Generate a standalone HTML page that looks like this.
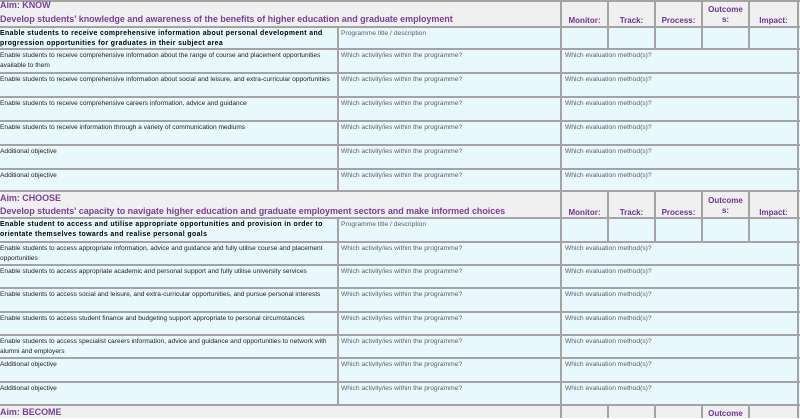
<!DOCTYPE html>
<html><head><meta charset="utf-8"><style>
body{margin:0;width:800px;height:418px;overflow:hidden;background:#fff;font-family:"Liberation Sans",sans-serif;position:relative}
.a{position:absolute}
.hb{background:#f1f0f0}
.rb{background:#e8f8fc}
.h{background:#a4a4a4;height:2px;left:0;width:800px}
.v{background:#a4a4a4;width:2px}
.t{position:absolute;font-size:6.6px;line-height:9.5px;color:#222;white-space:nowrap;margin-top:1px}
.g{color:#5a6070;font-size:6.7px}
.b{font-weight:bold;color:#000;font-size:6.9px;letter-spacing:.4px}
.p{position:absolute;color:#7a3f9a;font-weight:bold;font-size:9px;white-space:nowrap;letter-spacing:-.05px}
.c{position:absolute;color:#6b3590;font-weight:bold;font-size:8px;text-align:center;line-height:10px}
</style></head><body>
<div class="a hb" style="left:0;top:0;width:800px;height:27px"></div>
<div class="a rb" style="left:0;top:27px;width:800px;height:164px"></div>
<div class="a hb" style="left:0;top:191px;width:800px;height:27px"></div>
<div class="a rb" style="left:0;top:218px;width:800px;height:187px"></div>
<div class="a hb" style="left:0;top:405px;width:800px;height:13px"></div>
<div class="a h" style="top:0"></div>
<div class="a h" style="top:26px"></div><div class="a h" style="top:48px"></div><div class="a h" style="top:72px"></div><div class="a h" style="top:96px"></div><div class="a h" style="top:120px"></div><div class="a h" style="top:144px"></div><div class="a h" style="top:168px"></div><div class="a h" style="top:190px"></div>
<div class="a h" style="top:217px"></div><div class="a h" style="top:241px"></div><div class="a h" style="top:264px"></div><div class="a h" style="top:287px"></div><div class="a h" style="top:311px"></div><div class="a h" style="top:334px"></div><div class="a h" style="top:357px"></div><div class="a h" style="top:381px"></div><div class="a h" style="top:404px"></div>
<div class="a v" style="left:337px;top:26px;height:165px"></div>
<div class="a v" style="left:560px;top:0;height:191px"></div>
<div class="a v" style="left:607px;top:0;height:49px"></div><div class="a v" style="left:654px;top:0;height:49px"></div><div class="a v" style="left:701px;top:0;height:49px"></div><div class="a v" style="left:748px;top:0;height:49px"></div><div class="a v" style="left:797px;top:0;height:191px"></div>
<div class="a v" style="left:337px;top:217px;height:188px"></div>
<div class="a v" style="left:560px;top:191px;height:214px"></div>
<div class="a v" style="left:607px;top:191px;height:51px"></div><div class="a v" style="left:654px;top:191px;height:51px"></div><div class="a v" style="left:701px;top:191px;height:51px"></div><div class="a v" style="left:748px;top:191px;height:51px"></div><div class="a v" style="left:797px;top:191px;height:214px"></div>
<div class="a v" style="left:560px;top:405px;height:13px"></div><div class="a v" style="left:607px;top:405px;height:13px"></div><div class="a v" style="left:654px;top:405px;height:13px"></div><div class="a v" style="left:701px;top:405px;height:13px"></div><div class="a v" style="left:748px;top:405px;height:13px"></div><div class="a v" style="left:797px;top:405px;height:13px"></div>

<div class="p" style="left:0;top:0">Aim: KNOW</div>
<div class="p" style="left:0;top:14px">Develop students' knowledge and awareness of the benefits of higher education and graduate employment</div>
<div class="c" style="left:562px;top:16px;width:45px">Monitor:</div>
<div class="c" style="left:609px;top:16px;width:45px">Track:</div>
<div class="c" style="left:656px;top:16px;width:45px">Process:</div>
<div class="c" style="left:703px;top:5px;width:45px">Outcome<br>s:</div>
<div class="c" style="left:750px;top:16px;width:47px">Impact:</div>

<div class="t b" style="left:0;top:28px">Enable students to receive comprehensive information about personal development and<br>progression opportunities for graduates in their subject area</div>
<div class="t g" style="left:341px;top:28px">Programme title / description</div>
<div class="t" style="left:0;top:50px">Enable students to receive comprehensive information about the range of course and placement opportunities<br>available to them</div>
<div class="t" style="left:0;top:74px">Enable students to receive comprehensive information about social and leisure, and extra-curricular opportunities</div>
<div class="t" style="left:0;top:98px">Enable students to receive comprehensive careers information, advice and guidance</div>
<div class="t" style="left:0;top:122px">Enable students to receive information through a variety of communication mediums</div>
<div class="t" style="left:0;top:146px">Additional objective</div>
<div class="t" style="left:0;top:170px">Additional objective</div>
<div class="t g" style="left:341px;top:50px">Which activity/ies within the programme?</div><div class="t g" style="left:565px;top:50px">Which evaluation method(s)?</div>
<div class="t g" style="left:341px;top:74px">Which activity/ies within the programme?</div><div class="t g" style="left:565px;top:74px">Which evaluation method(s)?</div>
<div class="t g" style="left:341px;top:98px">Which activity/ies within the programme?</div><div class="t g" style="left:565px;top:98px">Which evaluation method(s)?</div>
<div class="t g" style="left:341px;top:122px">Which activity/ies within the programme?</div><div class="t g" style="left:565px;top:122px">Which evaluation method(s)?</div>
<div class="t g" style="left:341px;top:146px">Which activity/ies within the programme?</div><div class="t g" style="left:565px;top:146px">Which evaluation method(s)?</div>
<div class="t g" style="left:341px;top:170px">Which activity/ies within the programme?</div><div class="t g" style="left:565px;top:170px">Which evaluation method(s)?</div>

<div class="p" style="left:0;top:193px">Aim: CHOOSE</div>
<div class="p" style="left:0;top:206px">Develop students' capacity to navigate higher education and graduate employment sectors and make informed choices</div>
<div class="c" style="left:562px;top:208px;width:45px">Monitor:</div>
<div class="c" style="left:609px;top:208px;width:45px">Track:</div>
<div class="c" style="left:656px;top:208px;width:45px">Process:</div>
<div class="c" style="left:703px;top:196px;width:45px">Outcome<br>s:</div>
<div class="c" style="left:750px;top:208px;width:47px">Impact:</div>

<div class="t b" style="left:0;top:219px">Enable student to access and utilise appropriate opportunities and provision in order to<br>orientate themselves towards and realise personal goals</div>
<div class="t g" style="left:341px;top:219px">Programme title / description</div>
<div class="t" style="left:0;top:243px">Enable students to access appropriate information, advice and guidance and fully utilise course and placement<br>opportunities</div>
<div class="t" style="left:0;top:266px">Enable students to access appropriate academic and personal support and fully utilise university services</div>
<div class="t" style="left:0;top:289px">Enable students to access social and leisure, and extra-curricular opportunities, and pursue personal interests</div>
<div class="t" style="left:0;top:313px">Enable students to access student finance and budgeting support appropriate to personal circumstances</div>
<div class="t" style="left:0;top:336px">Enable students to access specialist careers information, advice and guidance and opportunities to network with<br>alumni and employers</div>
<div class="t" style="left:0;top:359px">Additional objective</div>
<div class="t" style="left:0;top:383px">Additional objective</div>
<div class="t g" style="left:341px;top:243px">Which activity/ies within the programme?</div><div class="t g" style="left:565px;top:243px">Which evaluation method(s)?</div>
<div class="t g" style="left:341px;top:266px">Which activity/ies within the programme?</div><div class="t g" style="left:565px;top:266px">Which evaluation method(s)?</div>
<div class="t g" style="left:341px;top:289px">Which activity/ies within the programme?</div><div class="t g" style="left:565px;top:289px">Which evaluation method(s)?</div>
<div class="t g" style="left:341px;top:313px">Which activity/ies within the programme?</div><div class="t g" style="left:565px;top:313px">Which evaluation method(s)?</div>
<div class="t g" style="left:341px;top:336px">Which activity/ies within the programme?</div><div class="t g" style="left:565px;top:336px">Which evaluation method(s)?</div>
<div class="t g" style="left:341px;top:359px">Which activity/ies within the programme?</div><div class="t g" style="left:565px;top:359px">Which evaluation method(s)?</div>
<div class="t g" style="left:341px;top:383px">Which activity/ies within the programme?</div><div class="t g" style="left:565px;top:383px">Which evaluation method(s)?</div>

<div class="p" style="left:0;top:407px">Aim: BECOME</div>
<div class="c" style="left:703px;top:409px;width:45px">Outcome</div>
</body></html>
